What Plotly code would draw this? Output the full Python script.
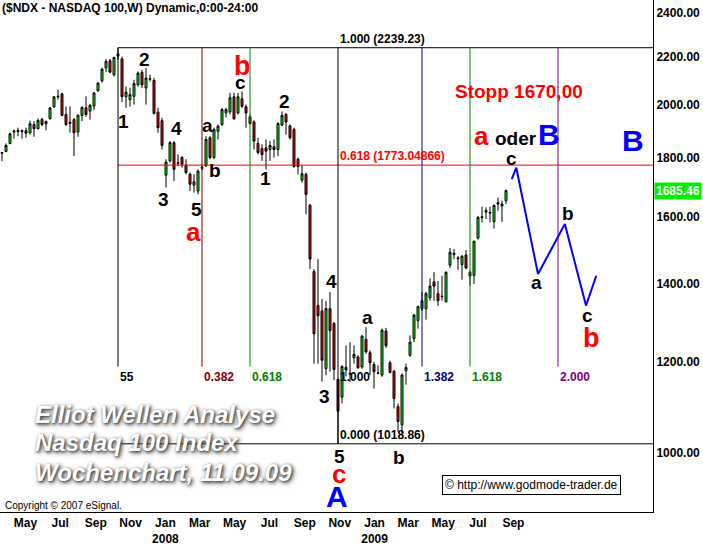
import math
import pandas as pd
import plotly.graph_objects as go

# ---------------- data (weekly bars of $NDX) ----------------
first_week = "2007-04-09"          # Monday of the first weekly bar

opens = [
    1815, 1822, 1851, 1893, 1895, 1899, 1899, 1891, 1922, 1907,
    1942, 1925, 1945, 1991, 2030, 2043, 1961, 1931, 1941, 1894,
    1957, 1987, 1974, 1994, 2056, 2097, 2151, 2182, 2122, 2202,
    2190, 2031, 2020, 2033, 2080, 2132, 2067, 2103, 2098, 1970,
    1937, 1738, 1788, 1854, 1782, 1800, 1773, 1741, 1704, 1684,
    1762, 1770, 1872, 1800, 1897, 1922, 1967, 1971, 2031, 1967,
    2023, 1991, 1952, 1932, 1851, 1832, 1835, 1829, 1839, 1829,
    1920, 1961, 1917, 1903, 1794, 1721, 1741, 1637, 1435, 1341,
    1327, 1183, 1333, 1294, 1158, 1118, 1186, 1170, 1209, 1211,
    1187, 1254, 1221, 1193, 1173, 1168, 1275, 1197, 1177, 1097,
    1058, 1178, 1215, 1256, 1302, 1333, 1333, 1362, 1406, 1373,
    1365, 1351, 1453, 1484, 1472, 1455, 1483, 1433, 1424, 1534,
    1597, 1615, 1614, 1585, 1641, 1635, 1652,
]
highs = [
    1820, 1851, 1892, 1903, 1910, 1903, 1910, 1937, 1935, 1945,
    1948, 1937, 1989, 2033, 2060, 2047, 1992, 1993, 1948, 1961,
    1993, 2033, 2003, 2049, 2091, 2150, 2189, 2190, 2200, 2239.23,
    2200, 2073, 2068, 2101, 2136, 2143, 2150, 2122, 2109, 1987,
    1948, 1794, 1860, 1860, 1811, 1805, 1794, 1747, 1741, 1758,
    1772, 1878, 1878, 1910, 1922, 1987, 1987, 2047, 2047, 2047,
    2053, 2000, 1961, 1938, 1872, 1848, 1866, 1860, 1866, 1931,
    1973, 1967, 1922, 1910, 1800, 1773, 1747, 1641, 1442, 1471,
    1359, 1354, 1378, 1298, 1160, 1191, 1239, 1247, 1239, 1215,
    1265, 1285, 1227, 1199, 1191, 1281, 1283, 1202, 1180, 1104,
    1172, 1195, 1264, 1319, 1341, 1378, 1378, 1416, 1433, 1408,
    1423, 1435, 1504, 1501, 1479, 1483, 1498, 1438, 1526, 1603,
    1633, 1630, 1633, 1639, 1662, 1652, 1689,
]
lows = [
    1787, 1819, 1848, 1869, 1878, 1869, 1872, 1884, 1876, 1903,
    1916, 1900, 1941, 1987, 2020, 1954, 1916, 1891, 1805, 1876,
    1935, 1952, 1941, 1977, 2051, 2089, 2133, 2129, 2115, 2186,
    2010, 1987, 1992, 2000, 2073, 2067, 2000, 2094, 1961, 1891,
    1829, 1696, 1782, 1718, 1770, 1764, 1741, 1684, 1679, 1673,
    1755, 1768, 1794, 1794, 1866, 1916, 1949, 1961, 1941, 1961,
    1987, 1910, 1922, 1829, 1811, 1788, 1758, 1788, 1800, 1805,
    1916, 1884, 1866, 1764, 1741, 1713, 1608, 1442, 1195, 1195,
    1153, 1168, 1176, 1156, 1018.86, 1104, 1165, 1152, 1195, 1183,
    1183, 1219, 1168, 1137, 1170, 1164, 1233, 1172, 1093, 1044,
    1037, 1146, 1211, 1247, 1281, 1327, 1304, 1354, 1354, 1340,
    1354, 1350, 1445, 1471, 1440, 1412, 1442, 1395, 1400, 1529,
    1582, 1593, 1582, 1563, 1619, 1584, 1641,
]
closes = [
    1818, 1844, 1887, 1897, 1899, 1896, 1889, 1925, 1906, 1938,
    1922, 1934, 1987, 2031, 2033, 1957, 1922, 1926, 1891, 1958,
    1989, 1961, 1997, 2047, 2087, 2146, 2179, 2133, 2196, 2212,
    2032, 2050, 2040, 2085, 2129, 2080, 2108, 2105, 1965, 1910,
    1844, 1784, 1854, 1758, 1780, 1776, 1747, 1707, 1715, 1752,
    1765, 1866, 1800, 1903, 1916, 1980, 1980, 2027, 1944, 2031,
    1993, 1967, 1926, 1860, 1818, 1811, 1823, 1844, 1829, 1926,
    1957, 1932, 1872, 1768, 1768, 1743, 1673, 1471, 1268, 1314,
    1203, 1333, 1276, 1181, 1087, 1188, 1180, 1172, 1217, 1185,
    1262, 1223, 1197, 1176, 1172, 1277, 1238, 1174, 1115, 1065,
    1168, 1186, 1247, 1316, 1338, 1354, 1373, 1394, 1394, 1354,
    1366, 1433, 1491, 1488, 1474, 1479, 1445, 1422, 1524, 1598,
    1600, 1620, 1612, 1637, 1645, 1641, 1685.46,
]

# Fibonacci retracement / time-zone tool
fib_high = 2239.23
fib_low = 1018.86
retr_ratio = 0.618
fib_high_bar = 29                  # index of the week with the 2239.23 high
fib_bars = 55                      # bars from high to low
fib_time_ratios = [0.0, 0.382, 0.618, 1.0, 1.382, 1.618, 2.0]
fib_time_labels = ["55", "0.382", "0.618", "1.000", "1.382", "1.618", "2.000"]
fib_time_bottom = 1188

# projected path (blue)
proj_dates = ["2009-09-17", "2009-09-25", "2009-11-02", "2009-12-19", "2010-01-25", "2010-02-12"]
proj_values = [1724, 1764, 1428, 1577, 1341, 1423]

# axis ticks
month_starts = ["2007-05-01", "2007-07-01", "2007-09-01", "2007-11-01", "2008-01-01",
                "2008-03-01", "2008-05-01", "2008-07-01", "2008-09-01", "2008-11-01",
                "2009-01-01", "2009-03-01", "2009-05-01", "2009-07-01", "2009-09-01"]
month_labels = ["May", "Jul", "Sep", "Nov", "Jan<br>2008", "Mar", "May", "Jul", "Sep", "Nov",
                "Jan<br>2009", "Mar", "May", "Jul", "Sep"]
price_ticks = [1000, 1200, 1400, 1600, 1800, 2000, 2200, 2400]

# wave labels: text, week offset from the high bar, price, color, size
wave_labels = [
    ("2", 6.5, 2186, "black", 19), ("1", 1.25, 1933, "black", 19),
    ("4", 14.5, 1907, "black", 19), ("3", 11.25, 1657, "black", 19),
    ("5", 19.5, 1624, "black", 19), ("a", 18.75, 1552, "red", 26),
    ("a", 22.25, 1918, "black", 19), ("b", 24.25, 1755, "black", 19),
    ("c", 30.5, 2088, "black", 19), ("b", 31.0, 2161, "red", 27),
    ("2", 41.5, 2012, "black", 19), ("1", 36.75, 1727, "black", 19),
    ("4", 53.25, 1408, "black", 19), ("3", 51.5, 1119, "black", 19),
    ("5", 55.25, 994, "black", 19), ("c", 55.25, 959, "red", 26),
    ("A", 54.75, 917, "blue", 30), ("a", 62.25, 1309, "black", 19),
    ("b", 70.25, 992, "black", 19),
    ("Stopp 1670,00", 100.25, 2052, "red", 19),
    ("a", 90.75, 1877, "red", 26), ("oder", 99.5, 1870, "black", 19),
    ("B", 107.75, 1884, "blue", 30), ("B", 128.75, 1862, "blue", 30),
    ("c", 98.25, 1797, "black", 19), ("a", 104.5, 1405, "black", 19),
    ("b", 112.5, 1611, "black", 19), ("c", 117.25, 1314, "black", 19),
    ("b", 118.25, 1258, "red", 27),
]

# ---------------- figure ----------------
PLOT_W, PLOT_H = 653, 514
dates = pd.date_range(first_week, periods=len(opens), freq="7D")
anchor = dates[fib_high_bar]


def wk(k):
    return (anchor + pd.Timedelta(days=7 * k)).strftime("%Y-%m-%d %H:%M")


x_left, x_right = wk(-29.5), wk(133.75)
ly = math.log10

fig = go.Figure()

fig.add_trace(go.Candlestick(
    x=dates, open=opens, high=highs, low=lows, close=closes,
    increasing=dict(line=dict(color="black", width=1), fillcolor="#00ff00"),
    decreasing=dict(line=dict(color="black", width=1), fillcolor="#ff0000"),
    whiskerwidth=0, showlegend=False, hoverinfo="skip",
))


def hline(x0, x1, y, color):
    fig.add_trace(go.Scatter(x=[x0, x1], y=[y, y], mode="lines",
                             line=dict(color=color, width=1),
                             showlegend=False, hoverinfo="skip"))


retr_level = fib_low + retr_ratio * (fib_high - fib_low)
hline(wk(0), x_right, fib_high, "black")
hline(wk(0), x_right, fib_low, "black")
hline(wk(0), x_right, retr_level, "#ff0000")

time_colors = ["black", "#800000", "#008000", "black", "#000080", "#008000", "#800080"]
annotations = []
for r, lab, col in zip(fib_time_ratios, fib_time_labels, time_colors):
    k = math.floor(r * fib_bars + 1e-9)
    bottom = fib_low if r == 1.0 else fib_time_bottom
    fig.add_trace(go.Scatter(x=[wk(k), wk(k)], y=[fib_high, bottom], mode="lines",
                             line=dict(color=col, width=1),
                             showlegend=False, hoverinfo="skip"))
    annotations.append(dict(x=wk(k), y=ly(fib_time_bottom), text=lab, showarrow=False,
                            xanchor="left", yanchor="top", xshift=0, yshift=-1,
                            font=dict(family="Arial", size=12, color=col, weight="bold")))

# projection
fig.add_trace(go.Scatter(x=proj_dates, y=proj_values, mode="lines",
                         line=dict(color="#0000ff", width=2),
                         showlegend=False, hoverinfo="skip"))

# fib level texts
for txt, val, col in [
    (f"1.000 ({fib_high:.2f})", fib_high, "black"),
    (f"0.618 ({retr_level:.5f})", retr_level, "#ff0000"),
    (f"0.000 ({fib_low:.2f})", fib_low, "black"),
]:
    annotations.append(dict(x=wk(fib_bars), y=ly(val), text=txt, showarrow=False,
                            xanchor="left", yanchor="bottom", xshift=0, yshift=0,
                            font=dict(family="Arial", size=12, color=col, weight="bold")))

for txt, k, p, col, size in wave_labels:
    annotations.append(dict(x=wk(k), y=ly(p), text=txt, showarrow=False,
                            xanchor="center", yanchor="middle",
                            font=dict(family="Arial", size=size, color=col, weight="bold")))

# title
annotations.append(dict(x=0, y=1, xref="paper", yref="paper", xanchor="left", yanchor="top",
                        text="($NDX - NASDAQ 100,W) Dynamic,0:00-24:00", showarrow=False,
                        xshift=1, borderpad=0,
                        font=dict(family="Arial", size=12, color="black", weight="bold")))

# last price box
annotations.append(dict(x=1, y=ly(closes[-1]), xref="paper", yref="y", xanchor="left",
                        yanchor="middle", text=f"{closes[-1]:.2f}", showarrow=False,
                        bgcolor="#00ee00", borderpad=1, xshift=1,
                        font=dict(family="Arial", size=12, color="white", weight="bold")))

# watermark texts
for txt, py in [("Elliot Wellen Analyse", 416), ("Nasdaq 100 Index", 444),
                ("Wochenchart, 11.09.09", 474)]:
    annotations.append(dict(x=33 / PLOT_W, y=1 - py / PLOT_H, xref="paper", yref="paper",
                            xanchor="left", yanchor="middle", text=txt, showarrow=False,
                            font=dict(family="Arial", size=24, color="white", weight="bold",
                                      style="italic",
                                      shadow="1px 1px 3px #303030, 2px 2px 5px #707070")))

annotations.append(dict(x=3 / PLOT_W, y=1 - 507 / PLOT_H, xref="paper", yref="paper",
                        xanchor="left", yanchor="middle", text="Copyright © 2007 eSignal.",
                        showarrow=False, font=dict(family="Arial", size=10, color="black")))

annotations.append(dict(x=531.5 / PLOT_W, y=1 - 486.5 / PLOT_H, xref="paper", yref="paper",
                        xanchor="center", yanchor="middle",
                        text="© http://www.godmode-trader.de", showarrow=False,
                        bordercolor="black", borderwidth=1, borderpad=2, bgcolor="white",
                        font=dict(family="Arial", size=12, color="black")))

tick_positions = [(pd.Timestamp(m) + pd.Timedelta(days=19)).strftime("%Y-%m-%d") for m in month_starts]

fig.update_layout(
    width=703, height=546,
    margin=dict(l=0, r=50, t=0, b=32),
    paper_bgcolor="white", plot_bgcolor="white",
    showlegend=False,
    annotations=annotations,
    xaxis=dict(type="date", range=[x_left, x_right], rangeslider=dict(visible=False),
               showgrid=False, zeroline=False, showline=True, linecolor="black", linewidth=1,
               tickmode="array", tickvals=tick_positions, ticktext=month_labels, ticks="",
               tickfont=dict(family="Arial", size=12, color="black", weight="bold")),
    yaxis=dict(type="log", side="right", range=[ly(889.7), ly(2462)],
               showgrid=False, zeroline=False, showline=True, linecolor="black", linewidth=1,
               tickmode="array", tickvals=price_ticks,
               ticktext=[f"{v:.2f}" for v in price_ticks], ticks="",
               tickfont=dict(family="Arial", size=12, color="black", weight="bold")),
)

fig.write_html("out.html", config={"displayModeBar": False},
               post_script="document.body.style.margin='0px';document.body.style.overflow='hidden';")
